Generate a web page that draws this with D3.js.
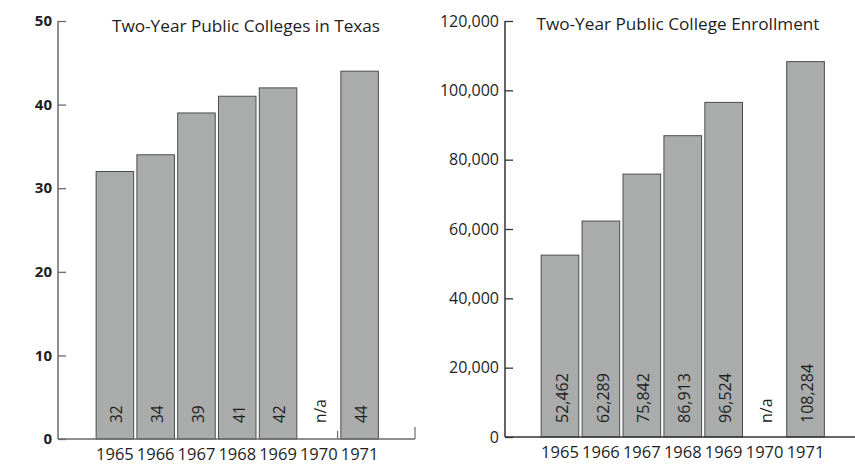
<!DOCTYPE html>
<html>
<head>
<meta charset="utf-8">
<script src="https://cdn.jsdelivr.net/npm/d3@7"></script>
<style>
  body { margin: 0; background: #fff; }
  svg text { font-family: "Open Sans", "Noto Sans", sans-serif; fill: #1e1e1e; }
</style>
</head>
<body>
<div id="chart"></div>
<script>
// data
const years = ["1965", "1966", "1967", "1968", "1969", "1970", "1971"];
const colleges = [32, 34, 39, 41, 42, null, 44];
const enrollment = [52462, 62289, 75842, 86913, 96524, null, 108284];
const collegeTicks = [0, 10, 20, 30, 40, 50];
const enrollTicks = [0, 20000, 40000, 60000, 80000, 100000, 120000];

const width = 855, height = 464;
const svg = d3.select("#chart").append("svg")
    .attr("width", width)
    .attr("height", height);

const fmt = d3.format(",");

function drawChart(opt) {
    const g = svg.append("g");
    const y = d3.scaleLinear().domain([0, opt.max]).range([opt.base, opt.top]);
    const x = d3.scaleBand().domain(years).range(opt.band).paddingInner(0.08).paddingOuter(0.04);

    // y axis
    const yAxis = d3.axisRight(y).tickValues(opt.ticks).tickSize(opt.tick).tickFormat("");
    const ya = g.append("g").attr("transform", `translate(${opt.axisX},0)`).call(yAxis);
    ya.select(".domain").remove();
    ya.selectAll("line").attr("stroke", opt.axisColor).attr("stroke-width", 1.3);
    g.append("line")
        .attr("x1", opt.axisX).attr("x2", opt.axisX)
        .attr("y1", y(opt.max)).attr("y2", y(0))
        .attr("stroke", opt.axisColor).attr("stroke-width", 1.5);

    g.selectAll(".ylab").data(opt.ticks).enter().append("text")
        .attr("class", "ylab")
        .attr("x", opt.axisX - 6)
        .attr("y", d => y(d))
        .attr("dy", "0.35em")
        .attr("text-anchor", "end")
        .attr("font-size", opt.tickSize)
        .attr("font-weight", opt.boldTicks ? "bold" : "normal")
        .text(d => opt.fmt(d));

    // bars
    const rows = years.map((yr, i) => ({ year: yr, v: opt.values[i] }));
    g.selectAll(".bar").data(rows.filter(d => d.v != null)).enter().append("rect")
        .attr("class", "bar")
        .attr("x", d => x(d.year))
        .attr("width", x.bandwidth())
        .attr("y", d => y(d.v))
        .attr("height", d => y(0) - y(d.v))
        .attr("fill", "#aaacab")
        .attr("stroke", "#4d4d4d")
        .attr("stroke-width", 1);

    // value labels inside bars (rotated)
    g.selectAll(".vlab").data(rows).enter().append("text")
        .attr("class", "vlab")
        .attr("transform", d => `translate(${x(d.year) + x.bandwidth() / 2 + 2},${y(0) - opt.labelLift}) rotate(-90)`)
        .attr("dy", "0.35em")
        .attr("font-size", opt.valSize)
        .text(d => d.v == null ? "n/a" : opt.fmt(d.v));

    // baseline
    g.append("line")
        .attr("x1", opt.axisX).attr("x2", opt.baseEnd)
        .attr("y1", y(0)).attr("y2", y(0))
        .attr("stroke", opt.axisColor).attr("stroke-width", 1.5);
    if (opt.endTick) {
        g.append("line")
            .attr("x1", opt.baseEnd).attr("x2", opt.baseEnd)
            .attr("y1", y(0)).attr("y2", y(0) - 12)
            .attr("stroke", opt.axisColor).attr("stroke-width", 1.2);
        const gx = x("1970") + x.bandwidth();
        g.append("line")
            .attr("x1", gx).attr("x2", gx)
            .attr("y1", y(0)).attr("y2", y(0) - 8)
            .attr("stroke", opt.axisColor).attr("stroke-width", 1.2);
    }

    // year labels
    g.selectAll(".xlab").data(years).enter().append("text")
        .attr("class", "xlab")
        .attr("x", d => x(d) + x.bandwidth() / 2)
        .attr("y", y(0) + 21)
        .attr("text-anchor", "middle")
        .attr("font-size", 16.5)
        .text(d => d);

    // title
    g.append("text")
        .attr("x", opt.titleX)
        .attr("y", opt.titleY)
        .attr("text-anchor", "middle")
        .attr("font-size", 17.2)
        .text(opt.title);
}

drawChart({
    values: colleges, max: 50, ticks: collegeTicks, fmt: d => d,
    top: 21, base: 439, axisX: 58, tick: 8, band: [94.5, 380],
    baseEnd: 415, endTick: true, axisColor: "#6a6a6a", boldTicks: true, tickSize: 15,
    valSize: 15.5, labelLift: 16,
    title: "Two-Year Public Colleges in Texas", titleX: 246, titleY: 32
});

drawChart({
    values: enrollment, max: 120000, ticks: enrollTicks, fmt: fmt,
    top: 21, base: 437, axisX: 505, tick: 8, band: [539.5, 826],
    baseEnd: width, endTick: false, axisColor: "#333", boldTicks: false, tickSize: 16,
    valSize: 16, labelLift: 14,
    title: "Two-Year Public College Enrollment", titleX: 678, titleY: 30
});
</script>
</body>
</html>
